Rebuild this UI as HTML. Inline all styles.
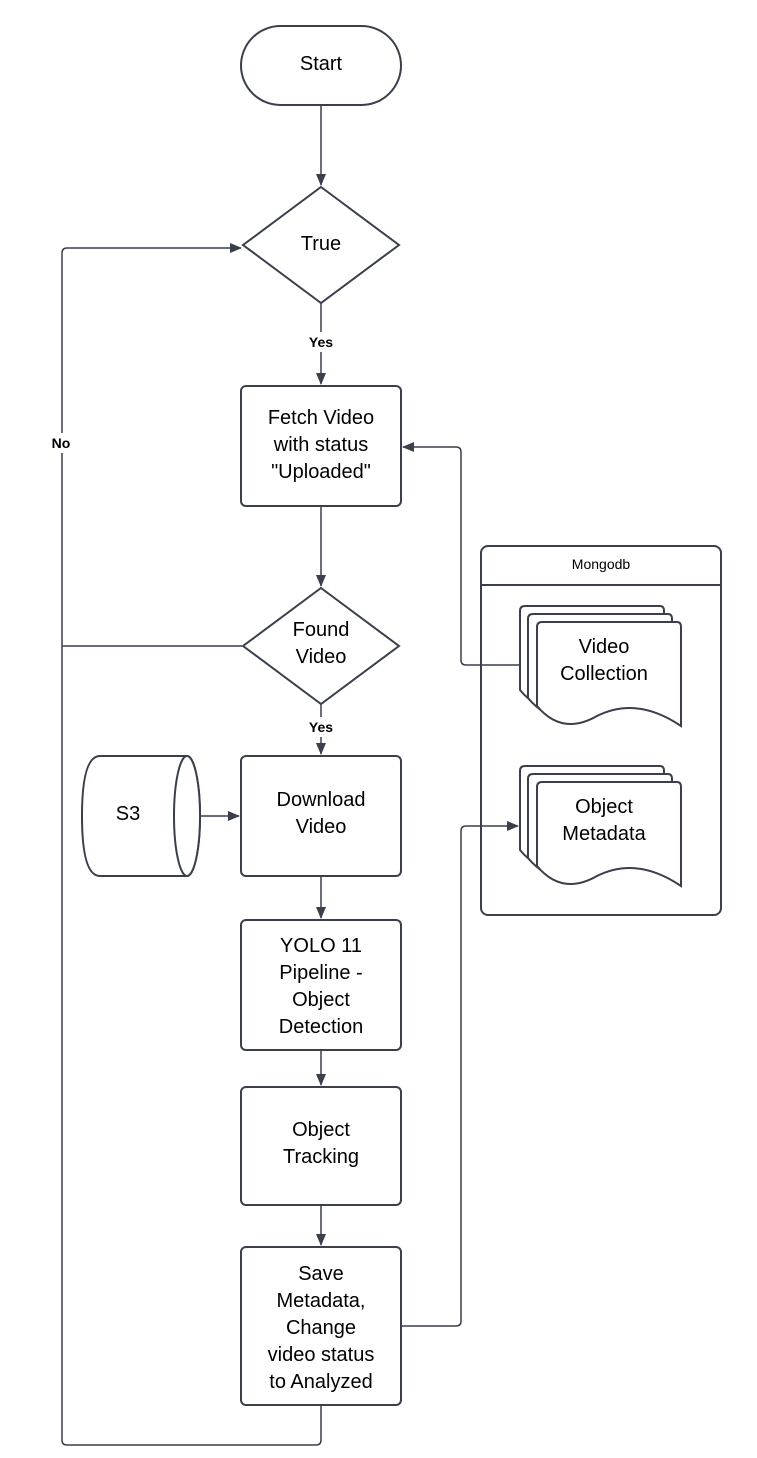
<!DOCTYPE html>
<html><head><style>body{margin:0;background:#fff}svg{display:block}text{font-family:"Liberation Sans",sans-serif;fill:#000}</style></head><body>
<svg width="757" height="1458" viewBox="0 0 757 1458" xmlns="http://www.w3.org/2000/svg">
<defs><marker id="a" markerWidth="12" markerHeight="10" refX="11" refY="5" orient="auto" markerUnits="userSpaceOnUse"><path d="M0,0 L12,5 L0,10 z" fill="#3a3f4b"/></marker></defs>
<g fill="#fff" stroke="#3a3f4b" stroke-width="2">
<rect x="241" y="26" width="160" height="79" rx="39.5"/>
<path d="M321 187 L399 245 L321 303 L243 245 Z"/>
<rect x="241" y="386" width="160" height="120" rx="5"/>
<path d="M321 588 L399 646 L321 704 L243 646 Z"/>
<rect x="241" y="756" width="160" height="120" rx="5"/>
<rect x="241" y="920" width="160" height="130" rx="5"/>
<rect x="241" y="1087" width="160" height="118" rx="5"/>
<rect x="241" y="1247" width="160" height="158" rx="5"/>
<path d="M100 756 H187 A13 60 0 0 1 187 876 H100 Q82 876 82 816 Q82 756 100 756 Z"/>
<ellipse cx="187" cy="816" rx="13" ry="60"/>
<rect x="481" y="546" width="240" height="369" rx="7"/>
<path d="M481 585 H721" fill="none"/>
<path d="M520 611 Q520 606 525 606 H660 Q664 606 664 611 V700 Q620 680 580 705 Q545 720 520 690 Z"/>
<path d="M528 619 Q528 614 533 614 H668 Q672 614 672 619 V708 Q628 688 588 713 Q553 728 528 698 Z"/>
<path d="M537 627 Q537 622 542 622 H677 Q681 622 681 627 V726 Q637 696 597 716 Q562 736 537 706 Z"/>
<path d="M520 771 Q520 766 525 766 H660 Q664 766 664 771 V860 Q620 840 580 865 Q545 880 520 850 Z"/>
<path d="M528 779 Q528 774 533 774 H668 Q672 774 672 779 V868 Q628 848 588 873 Q553 888 528 858 Z"/>
<path d="M537 787 Q537 782 542 782 H677 Q681 782 681 787 V886 Q637 856 597 876 Q562 896 537 866 Z"/>
</g>
<g fill="none" stroke="#3a3f4b" stroke-width="1.5">
<path d="M321 105 V185" marker-end="url(#a)"/>
<path d="M321 303 V384" marker-end="url(#a)"/>
<path d="M321 506 V586" marker-end="url(#a)"/>
<path d="M321 704 V754" marker-end="url(#a)"/>
<path d="M321 876 V918" marker-end="url(#a)"/>
<path d="M321 1050 V1085" marker-end="url(#a)"/>
<path d="M321 1205 V1245" marker-end="url(#a)"/>
<path d="M321 1406 V1440 Q321 1445 316 1445 H67 Q62 1445 62 1440 V253 Q62 248 67 248 H241" marker-end="url(#a)"/>
<path d="M242 646 H62"/>
<path d="M520 665 H466 Q461 665 461 660 V452 Q461 447 456 447 H403" marker-end="url(#a)"/>
<path d="M402 1326 H456 Q461 1326 461 1321 V831 Q461 826 466 826 H518" marker-end="url(#a)"/>
<path d="M201 816 H239" marker-end="url(#a)"/>
</g>
<g font-size="20" text-anchor="middle">
<text x="321" y="70">Start</text>
<text x="321" y="250">True</text>
<text x="321" y="424">Fetch Video</text><text x="321" y="451">with status</text><text x="321" y="478">"Uploaded"</text>
<text x="321" y="636">Found</text><text x="321" y="663">Video</text>
<text x="321" y="806">Download</text><text x="321" y="833">Video</text>
<text x="321" y="952">YOLO 11</text><text x="321" y="979">Pipeline -</text><text x="321" y="1006">Object</text><text x="321" y="1033">Detection</text>
<text x="321" y="1136">Object</text><text x="321" y="1163">Tracking</text>
<text x="321" y="1280">Save</text><text x="321" y="1307">Metadata,</text><text x="321" y="1334">Change</text><text x="321" y="1361">video status</text><text x="321" y="1388">to Analyzed</text>
<text x="128" y="820">S3</text>
<text x="604" y="653">Video</text><text x="604" y="680">Collection</text>
<text x="604" y="813">Object</text><text x="604" y="840">Metadata</text>
</g>
<text x="601" y="569" font-size="14" text-anchor="middle">Mongodb</text>
<g font-size="14" font-weight="bold" text-anchor="middle" fill="#3a3f4b">
<rect x="302" y="332" width="38" height="20" fill="#fff"/><text x="321" y="347">Yes</text>
<rect x="302" y="717" width="38" height="20" fill="#fff"/><text x="321" y="732">Yes</text>
<rect x="48" y="433" width="28" height="20" fill="#fff"/><text x="61" y="448">No</text>
</g>
</svg>
</body></html>
